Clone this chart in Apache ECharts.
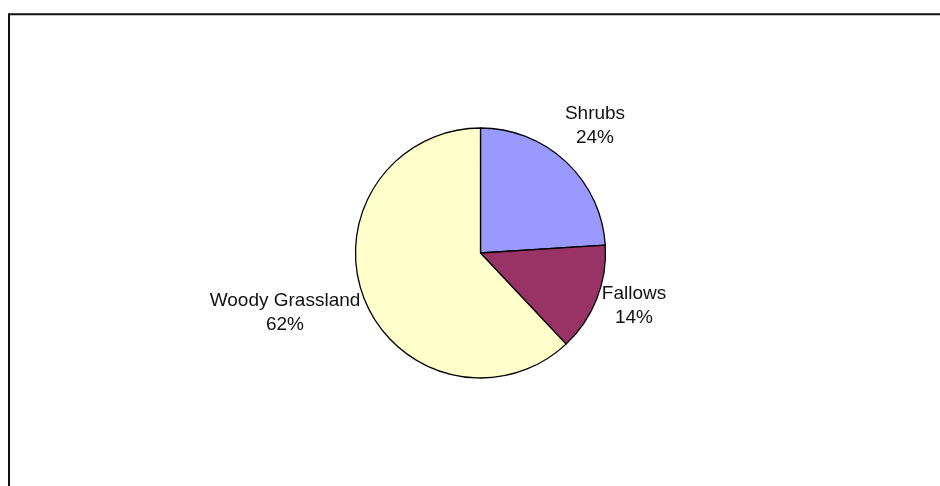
<!DOCTYPE html>
<html>
<head>
<meta charset="utf-8">
<script src="https://cdn.jsdelivr.net/npm/echarts@6/dist/echarts.min.js"></script>
<style>html,body{margin:0;padding:0;background:#fff;}#c{width:940px;height:486px;}</style>
</head>
<body>
<div id="c"></div>
<script>
var categories = ['Shrubs', 'Fallows', 'Woody Grassland'];
var values = [24, 14, 62];
var colors = ['#9999FF', '#993366', '#FFFFCC'];
var labelPos = [[595, 126], [634, 306], [285, 313]];

var chart = echarts.init(document.getElementById('c'), null, {renderer: 'canvas'});
chart.setOption({
  animation: false,
  backgroundColor: '#ffffff',
  graphic: [{
    type: 'rect',
    shape: {x: 9, y: 14.3, width: 960, height: 500},
    style: {fill: 'none', stroke: '#111', lineWidth: 2},
    silent: true
  }],
  series: [{
    type: 'pie',
    center: [480.5, 253],
    radius: 125,
    startAngle: 90,
    clockwise: true,
    data: categories.map(function (n, i) {
      return {name: n, value: values[i], itemStyle: {color: colors[i]}};
    }),
    itemStyle: {borderColor: '#000', borderWidth: 1.3},
    label: {
      show: true,
      position: 'outside',
      formatter: function (p) { return p.name + '\n' + Math.round(p.percent) + '%'; },
      fontFamily: 'Liberation Sans, Arial, sans-serif',
      fontSize: 19,
      lineHeight: 24,
      color: '#111',
      align: 'center'
    },
    labelLine: {show: false},
    labelLayout: function (params) {
      var p = labelPos[params.dataIndex];
      return {x: p[0], y: p[1], align: 'center', verticalAlign: 'middle'};
    },
    emphasis: {disabled: true}
  }]
});
</script>
</body>
</html>
